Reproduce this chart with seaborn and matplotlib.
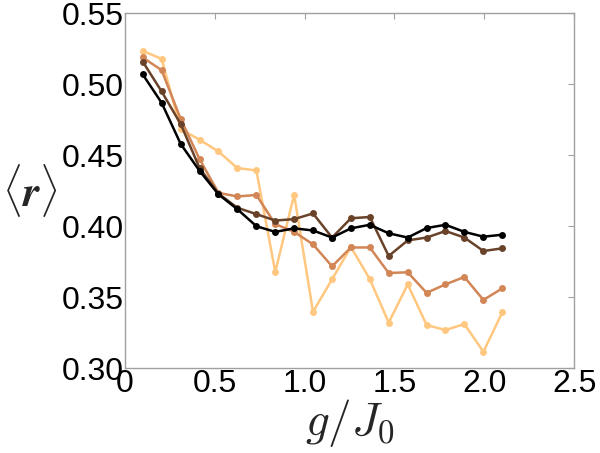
import matplotlib
matplotlib.use("Agg")
import matplotlib.pyplot as plt
import seaborn as sns
import pandas as pd
import numpy as np

g_over_J0 = [0.1, 0.205, 0.311, 0.416, 0.521, 0.626, 0.732, 0.837, 0.942, 1.047,
             1.153, 1.258, 1.363, 1.468, 1.574, 1.679, 1.784, 1.889, 1.995, 2.1]

r_light = [0.5236, 0.518, 0.4684, 0.461, 0.4527, 0.441, 0.4393, 0.3677, 0.4222, 0.3396,
           0.3626, 0.3853, 0.3627, 0.332, 0.359, 0.3303, 0.3268, 0.331, 0.3115, 0.3393]
r_orange = [0.519, 0.510, 0.4756, 0.4473, 0.4235, 0.421, 0.422, 0.4015, 0.396, 0.3872,
            0.3717, 0.385, 0.385, 0.367, 0.3675, 0.353, 0.359, 0.3642, 0.348, 0.3562]
r_brown = [0.516, 0.495, 0.472, 0.441, 0.423, 0.413, 0.4085, 0.404, 0.405, 0.409,
           0.392, 0.4056, 0.4065, 0.379, 0.390, 0.392, 0.3966, 0.392, 0.3825, 0.3844]
r_black = [0.507, 0.487, 0.458, 0.439, 0.4225, 0.412, 0.400, 0.396, 0.3985, 0.397,
           0.392, 0.3985, 0.401, 0.395, 0.392, 0.3987, 0.401, 0.396, 0.3926, 0.394]

series_names = ["s4", "s3", "s2", "s1"]
series_values = [r_light, r_orange, r_brown, r_black]

x_ticks = [0, 0.5, 1.0, 1.5, 2.0, 2.5]
x_ticklabels = ["0", "0.5", "1.0", "1.5", "2.0", "2.5"]
y_ticks = [0.30, 0.35, 0.40, 0.45, 0.50, 0.55]
y_ticklabels = ["0.30", "0.35", "0.40", "0.45", "0.50", "0.55"]

df = pd.concat([pd.DataFrame({"g": g_over_J0, "r": v, "series": n})
                for n, v in zip(series_names, series_values)], ignore_index=True)

sns.set_style("white")
plt.rcParams["font.family"] = ["Liberation Sans", "DejaVu Sans"]
plt.rcParams["mathtext.fontset"] = "cm"

cmap = plt.get_cmap("copper")
colors = [cmap(1.0), cmap(2 / 3), cmap(1 / 3), cmap(0.0)]
palette = dict(zip(series_names, colors))

fig = plt.figure(figsize=(6.0, 4.53), dpi=100)
ax = fig.add_axes([0.208, 0.1876, 0.749, 0.7826])

sns.lineplot(data=df, x="g", y="r", hue="series", hue_order=series_names,
             palette=palette, marker="o", markersize=5, markeredgewidth=0,
             linewidth=1.8, legend=False, ax=ax, sort=False)

ax.set_xlim(0, 2.5)
ax.set_ylim(0.30, 0.55)
ax.set_xticks(x_ticks)
ax.set_xticklabels(x_ticklabels)
ax.set_yticks(y_ticks)
ax.set_yticklabels(y_ticklabels)

for s in ax.spines.values():
    s.set_visible(True)
    s.set_color("#a0a0a0")
    s.set_linewidth(1.0)

ax.tick_params(axis="both", which="major", direction="in", length=4, width=0.8,
               color="#a0a0a0", labelsize=23, labelcolor="black",
               top=True, right=True, pad=1)

ax.set_xlabel(r"$g/J_0$", fontsize=34, labelpad=-2)
ax.set_ylabel(r"$\langle \boldsymbol{r} \rangle$", fontsize=31, rotation=0,
              labelpad=0, va="center")
ax.yaxis.set_label_coords(-0.212, 0.5)

fig.savefig("out.png", dpi=100)
